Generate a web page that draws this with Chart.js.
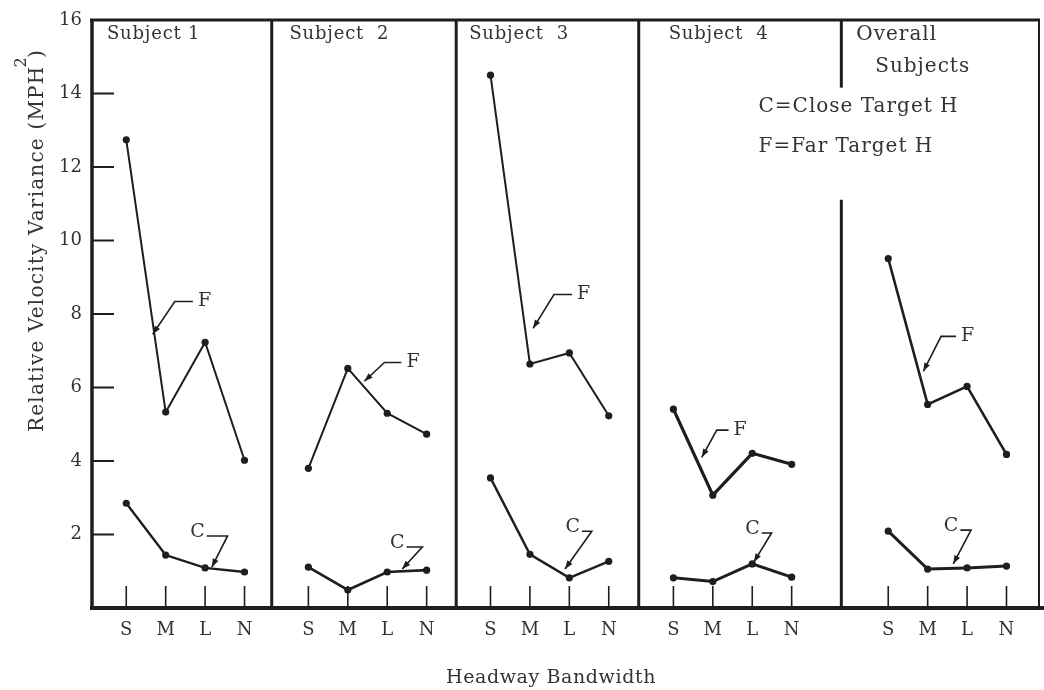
<!DOCTYPE html>
<html>
<head>
<meta charset="utf-8">
<script src="https://cdn.jsdelivr.net/npm/chart.js@4.4.0/dist/chart.umd.min.js"></script>
<style>
  body { margin: 0; background: #fff; }
  #wrap { width: 1044px; height: 690px; }
</style>
</head>
<body>
<div id="wrap"><canvas id="chart"></canvas></div>
<script>
const categories = ['S', 'M', 'L', 'N'];
const panelTitles = ['Subject 1', 'Subject  2', 'Subject  3', 'Subject  4', 'Overall', 'Subjects'];
const yTicks = [2, 4, 6, 8, 10, 12, 14, 16];

// F = far target headway
const farS1 = [12.74, 5.33, 7.23, 4.02];
const farS2 = [3.80, 6.52, 5.30, 4.73];
const farS3 = [14.50, 6.64, 6.94, 5.23];
const farS4 = [5.41, 3.07, 4.21, 3.91];
const farAll = [9.51, 5.54, 6.03, 4.18];

// C = close target headway
const closeS1 = [2.85, 1.44, 1.09, 0.98];
const closeS2 = [1.11, 0.49, 0.98, 1.03];
const closeS3 = [3.54, 1.46, 0.82, 1.27];
const closeS4 = [0.82, 0.72, 1.20, 0.84];
const closeAll = [2.09, 1.06, 1.09, 1.14];

const farSeries = [farS1, farS2, farS3, farS4, farAll];
const closeSeries = [closeS1, closeS2, closeS3, closeS4, closeAll];

// layout on the x axis (1 unit = spacing between S,M,L,N)
const X_MAX = 24.1;
const panelStart = [0.92, 5.54, 10.16, 14.8, 20.25];
const dividers = [4.61, 9.29, 13.92, 19.06];
const farWidth = [2, 2, 2, 3.2, 2.6];
const closeWidth = [2.4, 2.6, 2.4, 3, 3];

// leader lines for the F / C labels: tip on curve, elbow, end of stroke
const farNotes = [
    [[1.59, 7.45], [2.15, 8.34], [2.61, 8.34]],
    [[6.96, 6.17], [7.47, 6.68], [7.90, 6.68]],
    [[11.24, 7.61], [11.77, 8.53], [12.23, 8.53]],
    [[15.52, 4.10], [15.90, 4.84], [16.20, 4.84]],
    [[21.14, 6.44], [21.59, 7.39], [21.97, 7.39]]
];
const closeNotes = [
    [[3.09, 1.11], [3.49, 1.96], [2.96, 1.96]],
    [[7.92, 1.06], [8.43, 1.66], [8.03, 1.66]],
    [[12.05, 1.06], [12.73, 2.09], [12.48, 2.09]],
    [[16.84, 1.25], [17.29, 2.04], [17.04, 2.04]],
    [[21.90, 1.20], [22.35, 2.12], [22.08, 2.12]]
];
// where text sits (data units)
const titlePos = [[0.43, 15.6], [5.06, 15.6], [9.62, 15.6], [14.68, 15.6], [19.44, 15.6], [19.92, 14.73]];
const legendText = [['C=Close Target H', 16.96, 13.65], ['F=Far Target H', 16.96, 12.56]];

const FONT = '"DejaVu Serif", serif';
const INK = '#1e1e1e';
const TEXT = '#333';

const datasets = [];
for (let p = 0; p < 5; p++) {
    [[farSeries[p], farWidth[p]], [closeSeries[p], closeWidth[p]]].forEach(([vals, w]) => {
        datasets.push({
            data: vals.map((v, j) => ({x: panelStart[p] + j, y: v})),
            borderColor: INK,
            backgroundColor: INK,
            borderWidth: w,
            pointRadius: 3.6,
            pointBorderWidth: 0,
            tension: 0
        });
    });
}

function line(ctx, pts, w) {
    ctx.beginPath();
    ctx.lineWidth = w;
    ctx.moveTo(pts[0][0], pts[0][1]);
    for (let i = 1; i < pts.length; i++) ctx.lineTo(pts[i][0], pts[i][1]);
    ctx.stroke();
}

function arrowHead(ctx, from, tip) {
    const a = Math.atan2(tip[1] - from[1], tip[0] - from[0]);
    const len = 9, half = 0.35;
    ctx.beginPath();
    ctx.moveTo(tip[0], tip[1]);
    ctx.lineTo(tip[0] - len * Math.cos(a - half), tip[1] - len * Math.sin(a - half));
    ctx.lineTo(tip[0] - len * Math.cos(a + half), tip[1] - len * Math.sin(a + half));
    ctx.closePath();
    ctx.fill();
}

const decorations = {
    id: 'decorations',
    afterDatasetsDraw(chart) {
        const ctx = chart.ctx;
        const xs = chart.scales.x, ys = chart.scales.y;
        const px = v => xs.getPixelForValue(v);
        const py = v => ys.getPixelForValue(v);
        const P = ([u, v]) => [px(u), py(v)];
        const area = chart.chartArea;
        ctx.save();
        ctx.strokeStyle = INK;
        ctx.fillStyle = INK;
        ctx.lineCap = 'butt';

        // frame
        line(ctx, [[area.left, py(16)], [area.right, py(16)]], 3);
        line(ctx, [[area.left + 2, py(16)], [area.left + 2, py(0)]], 3.5);
        line(ctx, [[area.left, py(0)], [chart.width, py(0)]], 4);
        line(ctx, [[area.right - 1, py(16)], [area.right - 1, py(0)]], 2);
        dividers.forEach((d, i) => {
            if (i === 3) {
                line(ctx, [[px(d), py(16)], [px(d), py(14.16)]], 3);
                line(ctx, [[px(d), py(11.11)], [px(d), py(0)]], 3);
            } else {
                line(ctx, [[px(d), py(16)], [px(d), py(0)]], 3);
            }
        });

        // inner y ticks
        yTicks.slice(0, -1).forEach(v => line(ctx, [[area.left + 2, py(v)], [area.left + 24, py(v)]], 2));
        // inner x ticks
        panelStart.forEach(s => categories.forEach((c, j) => {
            line(ctx, [[px(s + j), py(0)], [px(s + j), py(0) - 22]], 1.6);
        }));

        // leader lines
        farNotes.concat(closeNotes).forEach(n => {
            const pts = n.map(P);
            line(ctx, pts, 1.6);
            arrowHead(ctx, pts[1], pts[0]);
        });

        // texts
        ctx.fillStyle = TEXT;
        ctx.font = '19px ' + FONT;
        ctx.textBaseline = 'middle';
        ctx.textAlign = 'left';
        farNotes.forEach(n => {
            const e = P(n[2]);
            ctx.fillText('F', e[0] + 5, e[1]);
        });
        ctx.textAlign = 'right';
        ctx.textBaseline = 'alphabetic';
        closeNotes.forEach(n => {
            const e = P(n[2]);
            ctx.fillText('C', e[0] - 2, e[1] + 1);
        });
        ctx.textAlign = 'left';
        ctx.textBaseline = 'middle';
        ctx.font = '18px ' + FONT;
        ctx.letterSpacing = '0.8px';
        panelTitles.slice(0, 4).forEach((t, i) => ctx.fillText(t, px(titlePos[i][0]), py(titlePos[i][1])));
        ctx.font = '20px ' + FONT;
        ctx.letterSpacing = '1px';
        panelTitles.slice(4).forEach((t, i) => ctx.fillText(t, px(titlePos[i + 4][0]), py(titlePos[i + 4][1])));
        legendText.forEach(([t, u, v]) => ctx.fillText(t, px(u), py(v)));

        // axis titles
        ctx.font = '19px ' + FONT;
        ctx.letterSpacing = '0.6px';
        ctx.textAlign = 'center';
        ctx.fillText('Headway Bandwidth', 551, 678);

        ctx.font = '20px ' + FONT;
        ctx.letterSpacing = '1.2px';
        ctx.translate(38, py(10));
        ctx.rotate(-Math.PI / 2);
        const main = 'Relative Velocity Variance (MPH';
        const full = main + ' )';
        const wFull = ctx.measureText(full).width;
        const wMain = ctx.measureText(main).width;
        ctx.textAlign = 'left';
        ctx.fillText(full, -wFull / 2, 0);
        ctx.font = '16px ' + FONT;
        ctx.fillText('2', -wFull / 2 + wMain - 2, -16);
        ctx.restore();
    }
};

new Chart(document.getElementById('chart'), {
    type: 'line',
    data: { datasets },
    options: {
        responsive: true,
        maintainAspectRatio: false,
        animation: false,
        events: [],
        layout: { padding: { top: 20, right: 2, left: 0, bottom: 0 } },
        plugins: { legend: { display: false }, tooltip: { enabled: false } },
        scales: {
            x: {
                type: 'linear',
                min: 0,
                max: X_MAX,
                grid: { display: false, drawTicks: false },
                border: { display: false },
                afterBuildTicks: scale => {
                    const t = [];
                    panelStart.forEach(s => categories.forEach((c, j) => t.push({value: s + j})));
                    scale.ticks = t;
                },
                afterFit: scale => { scale.height = 82; },
                ticks: {
                    autoSkip: false,
                    maxRotation: 0,
                    padding: 12,
                    color: TEXT,
                    font: { family: FONT, size: 18 },
                    callback: (v, i) => categories[i % 4]
                }
            },
            y: {
                min: 0,
                max: 16,
                grid: { display: false, drawTicks: false },
                border: { display: false },
                afterBuildTicks: scale => { scale.ticks = yTicks.map(v => ({value: v})); },
                afterFit: scale => { scale.width = 90; },
                ticks: {
                    padding: 8,
                    color: TEXT,
                    font: { family: FONT, size: 18 }
                }
            }
        }
    },
    plugins: [decorations]
});
</script>
</body>
</html>
